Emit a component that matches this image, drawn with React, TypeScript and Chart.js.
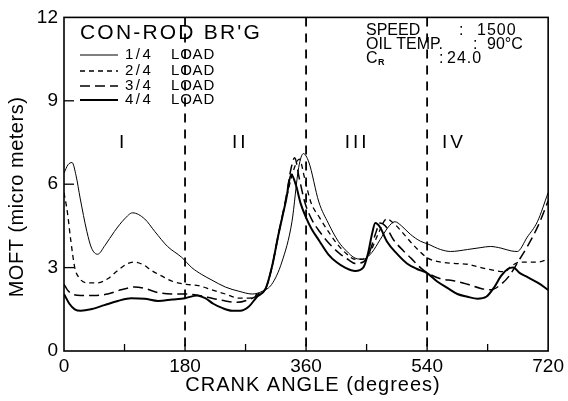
import React, { useEffect, useRef } from "react";
import { Chart, registerables } from "chart.js";

Chart.register(...registerables);

// ---- data (crank angle in degrees, MOFT in micro meters) ----
const load1Angles = [0, 6, 12, 18, 24, 34, 41, 50, 61, 75, 90, 102, 120, 135, 154, 175, 190, 205, 220, 240, 260, 280, 295, 309, 324, 339, 349, 356, 364, 379, 393, 408, 420, 433, 445, 458, 470, 482, 492, 502, 515, 530, 541, 560, 575, 600, 620, 634, 650, 665, 674, 689, 704, 720];
const load1Moft = [6.4, 6.7, 6.78, 6.3, 5.5, 4.3, 3.7, 3.48, 3.8, 4.3, 4.75, 4.97, 4.75, 4.3, 3.76, 3.37, 3.0, 2.75, 2.55, 2.3, 2.15, 2.05, 2.15, 2.4, 3.2, 4.65, 6.6, 7.1, 6.8, 5.36, 4.6, 3.94, 3.6, 3.34, 3.3, 3.55, 4.0, 4.45, 4.65, 4.5, 4.2, 3.95, 3.85, 3.65, 3.58, 3.65, 3.72, 3.76, 3.7, 3.6, 3.58, 4.1, 4.65, 5.7];

const load2Angles = [0, 5, 10, 16, 22, 34, 50, 65, 80, 95, 105, 118, 130, 145, 162, 182, 200, 220, 240, 260, 275, 288, 300, 309, 319, 330, 340, 350, 358, 367, 380, 393, 408, 420, 433, 443, 455, 467, 480, 490, 502, 520, 541, 560, 580, 600, 620, 640, 655, 665, 678, 690, 705, 720];
const load2Moft = [5.7, 5.0, 4.0, 3.0, 2.65, 2.45, 2.45, 2.6, 2.9, 3.15, 3.2, 3.1, 2.9, 2.7, 2.5, 2.4, 2.35, 2.2, 2.05, 1.9, 1.9, 2.05, 2.25, 3.0, 4.2, 5.4, 6.4, 6.9, 6.2, 5.36, 4.8, 4.3, 3.8, 3.5, 3.3, 3.3, 3.55, 4.2, 4.75, 4.6, 4.3, 3.8, 3.34, 3.2, 3.15, 3.12, 3.0, 2.9, 2.85, 3.05, 3.2, 3.2, 3.2, 3.3];

const load3Angles = [0, 5, 12, 25, 45, 65, 85, 105, 120, 140, 160, 180, 200, 220, 240, 258, 275, 288, 300, 309, 319, 330, 338, 343, 350, 358, 368, 380, 395, 410, 422, 433, 445, 455, 463, 470, 478, 490, 505, 516, 530, 541, 560, 581, 600, 620, 635, 650, 662, 675, 690, 705, 720];
const load3Moft = [2.4, 2.2, 2.05, 2.0, 2.0, 2.05, 2.2, 2.3, 2.25, 2.1, 2.05, 2.05, 2.0, 1.9, 1.8, 1.75, 1.85, 2.0, 2.25, 3.0, 4.2, 5.5, 6.6, 6.95, 6.2, 5.36, 4.75, 4.3, 3.85, 3.5, 3.3, 3.15, 3.2, 3.6, 4.2, 4.6, 4.5, 4.0, 3.6, 3.34, 3.0, 2.8, 2.6, 2.52, 2.4, 2.25, 2.2, 2.4, 2.7, 3.2, 3.8, 4.5, 5.4];

const load4Angles = [0, 8, 16, 25, 40, 60, 80, 100, 120, 140, 161, 180, 198, 210, 222, 235, 250, 262, 275, 287, 300, 309, 319, 330, 338, 345, 352, 360, 368, 380, 393, 405, 418, 433, 445, 452, 458, 463, 470, 480, 495, 510, 525, 540, 555, 570, 585, 600, 615, 628, 640, 650, 660, 668, 678, 690, 705, 720];
const load4Moft = [2.05, 1.7, 1.5, 1.45, 1.5, 1.65, 1.8, 1.9, 1.88, 1.8, 1.85, 1.9, 2.0, 1.9, 1.7, 1.55, 1.45, 1.45, 1.6, 1.95, 2.25, 3.0, 4.2, 5.4, 6.35, 5.96, 5.3, 4.8, 4.4, 3.95, 3.48, 3.2, 3.0, 2.88, 3.0, 3.5, 4.2, 4.6, 4.45, 3.95, 3.5, 3.15, 2.95, 2.8, 2.5, 2.27, 2.05, 1.95, 1.88, 1.95, 2.3, 2.7, 2.95, 3.0, 2.8, 2.65, 2.45, 2.2];

const seriesLabels = ["1/4", "2/4", "3/4", "4/4"];
const xMajorTicks = [0, 180, 360, 540, 720];
const xMinorTicks = [90, 270, 450, 630];
const yTicks = [0, 3, 6, 9, 12];
const strokeBoundaries = [180, 360, 540];
const strokeNames = ["I", "II", "III", "IV"];
const strokeNameAngles = [88, 262, 436, 580];
const strokeNameLevel = 7.5;

const chartTitle = "CON-ROD BR'G";
const xTitle = "CRANK ANGLE (degrees)";
const yTitle = "MOFT (micro meters)";

const FONT = "'Liberation Sans', Arial, sans-serif";

const lineStyles = [
  { width: 1, dash: [] as number[] },
  { width: 1.3, dash: [5, 4] },
  { width: 1.5, dash: [10, 5] },
  { width: 2, dash: [] as number[] },
];

function toPoints(xs: number[], ys: number[]) {
  return xs.map((x, i) => ({ x, y: ys[i] }));
}

function drawText(ctx: any, text: string, x: number, y: number, size: number, align: string, spacing: number) {
  ctx.font = `${size}px ${FONT}`;
  ctx.textAlign = align;
  ctx.textBaseline = "middle";
  ctx.letterSpacing = `${spacing}px`;
  ctx.fillText(text, x, y);
}

const decorPlugin = {
  id: "decor",
  afterDatasetsDraw(chart: any) {
    const { ctx, chartArea: a, scales } = chart;
    const xs = scales.x;
    const ys = scales.y;
    const seg = (x1: number, y1: number, x2: number, y2: number) => {
      ctx.beginPath();
      ctx.moveTo(x1, y1);
      ctx.lineTo(x2, y2);
      ctx.stroke();
    };
    ctx.save();
    ctx.strokeStyle = "#000";
    ctx.fillStyle = "#000";

    // frame
    ctx.setLineDash([]);
    ctx.lineWidth = 1.6;
    ctx.strokeRect(a.left, a.top, a.right - a.left, a.bottom - a.top);

    // inward ticks
    ctx.lineWidth = 1.3;
    yTicks.forEach((v) => {
      if (v === yTicks[0] || v === yTicks[yTicks.length - 1]) return;
      const y = ys.getPixelForValue(v);
      seg(a.left, y, a.left + 10, y);
    });
    [...xMinorTicks, ...strokeBoundaries].forEach((v) => {
      const x = xs.getPixelForValue(v);
      seg(x, a.bottom, x, a.bottom - 7);
    });

    // stroke boundaries
    ctx.setLineDash([9, 7]);
    ctx.lineWidth = 1.8;
    strokeBoundaries.forEach((v) => {
      const x = xs.getPixelForValue(v);
      seg(x, a.top, x, a.bottom);
    });
    ctx.setLineDash([]);

    // stroke names
    strokeNames.forEach((n, i) => {
      drawText(ctx, n, xs.getPixelForValue(strokeNameAngles[i]), ys.getPixelForValue(strokeNameLevel), 19, "center", 3);
    });

    // title block and legend
    drawText(ctx, chartTitle, 80, 33, 21, "left", 2.2);
    seriesLabels.forEach((lab, i) => {
      const y = [55, 71, 86, 100][i];
      const st = lineStyles[i];
      ctx.lineWidth = st.width;
      ctx.setLineDash(st.dash);
      seg(80, y, 118, y);
      ctx.setLineDash([]);
      drawText(ctx, lab, 125, y, 15, "left", 2.5);
      drawText(ctx, "LOAD", 171, y, 15, "left", 0.8);
    });

    // operating conditions
    drawText(ctx, "SPEED", 366, 31, 16, "left", 0);
    drawText(ctx, ":", 459, 31, 16, "left", 0);
    drawText(ctx, "1500", 477, 31, 16, "left", 1);
    drawText(ctx, "OIL TEMP.", 366, 45, 16, "left", 0);
    drawText(ctx, ":", 473, 45, 16, "left", 0);
    drawText(ctx, "90°C", 487, 45, 16, "left", 0);
    drawText(ctx, "C", 366, 59, 16, "left", 0);
    ctx.font = `bold 9px ${FONT}`;
    ctx.letterSpacing = "0px";
    ctx.textAlign = "left";
    ctx.fillText("R", 378, 63);
    drawText(ctx, ":", 439, 59, 16, "left", 0);
    drawText(ctx, "24.0", 447, 59, 16, "left", 1);

    // axis titles
    drawText(ctx, xTitle, 313, 385, 20, "center", 1);
    ctx.save();
    ctx.translate(17, 197);
    ctx.rotate(-Math.PI / 2);
    drawText(ctx, yTitle, 0, 0, 20, "center", 0.5);
    ctx.restore();

    ctx.restore();
  },
};

export default function App() {
  const ref = useRef<HTMLCanvasElement | null>(null);

  useEffect(() => {
    if (!ref.current) return;
    const series = [
      [load1Angles, load1Moft],
      [load2Angles, load2Moft],
      [load3Angles, load3Moft],
      [load4Angles, load4Moft],
    ];
    const chart = new Chart(ref.current, {
      type: "line",
      data: {
        datasets: series.map(([xs, ys], i) => ({
          label: seriesLabels[i] + " LOAD",
          data: toPoints(xs, ys),
          borderColor: "#000",
          borderWidth: lineStyles[i].width,
          borderDash: lineStyles[i].dash,
          pointRadius: 0,
          fill: false,
          cubicInterpolationMode: "monotone",
        })),
      },
      options: {
        animation: false,
        responsive: false,
        devicePixelRatio: 1,
        layout: { padding: { top: 13, right: 17, left: 0, bottom: 0 } },
        plugins: { legend: { display: false }, tooltip: { enabled: false }, title: { display: false } },
        scales: {
          x: {
            type: "linear",
            min: 0,
            max: 720,
            afterBuildTicks: (s: any) => {
              s.ticks = xMajorTicks.map((v) => ({ value: v }));
            },
            afterFit: (s: any) => {
              s.height = 50;
            },
            ticks: { color: "#000", font: { family: FONT, size: 19 }, padding: 4, maxRotation: 0, autoSkip: false },
            grid: { display: false, drawTicks: false },
            border: { display: false },
          },
          y: {
            type: "linear",
            min: 0,
            max: 12,
            afterBuildTicks: (s: any) => {
              s.ticks = yTicks.map((v) => ({ value: v }));
            },
            afterFit: (s: any) => {
              s.width = 64;
            },
            ticks: { color: "#000", font: { family: FONT, size: 19 }, padding: 6 },
            grid: { display: false, drawTicks: false },
            border: { display: false },
          },
        },
      },
      plugins: [decorPlugin],
    } as any);
    return () => chart.destroy();
  }, []);

  return (
    <div style={{ position: "fixed", left: 0, top: 0, width: 568, height: 401, background: "#fff" }}>
      <canvas ref={ref} width={568} height={401} />
    </div>
  );
}
